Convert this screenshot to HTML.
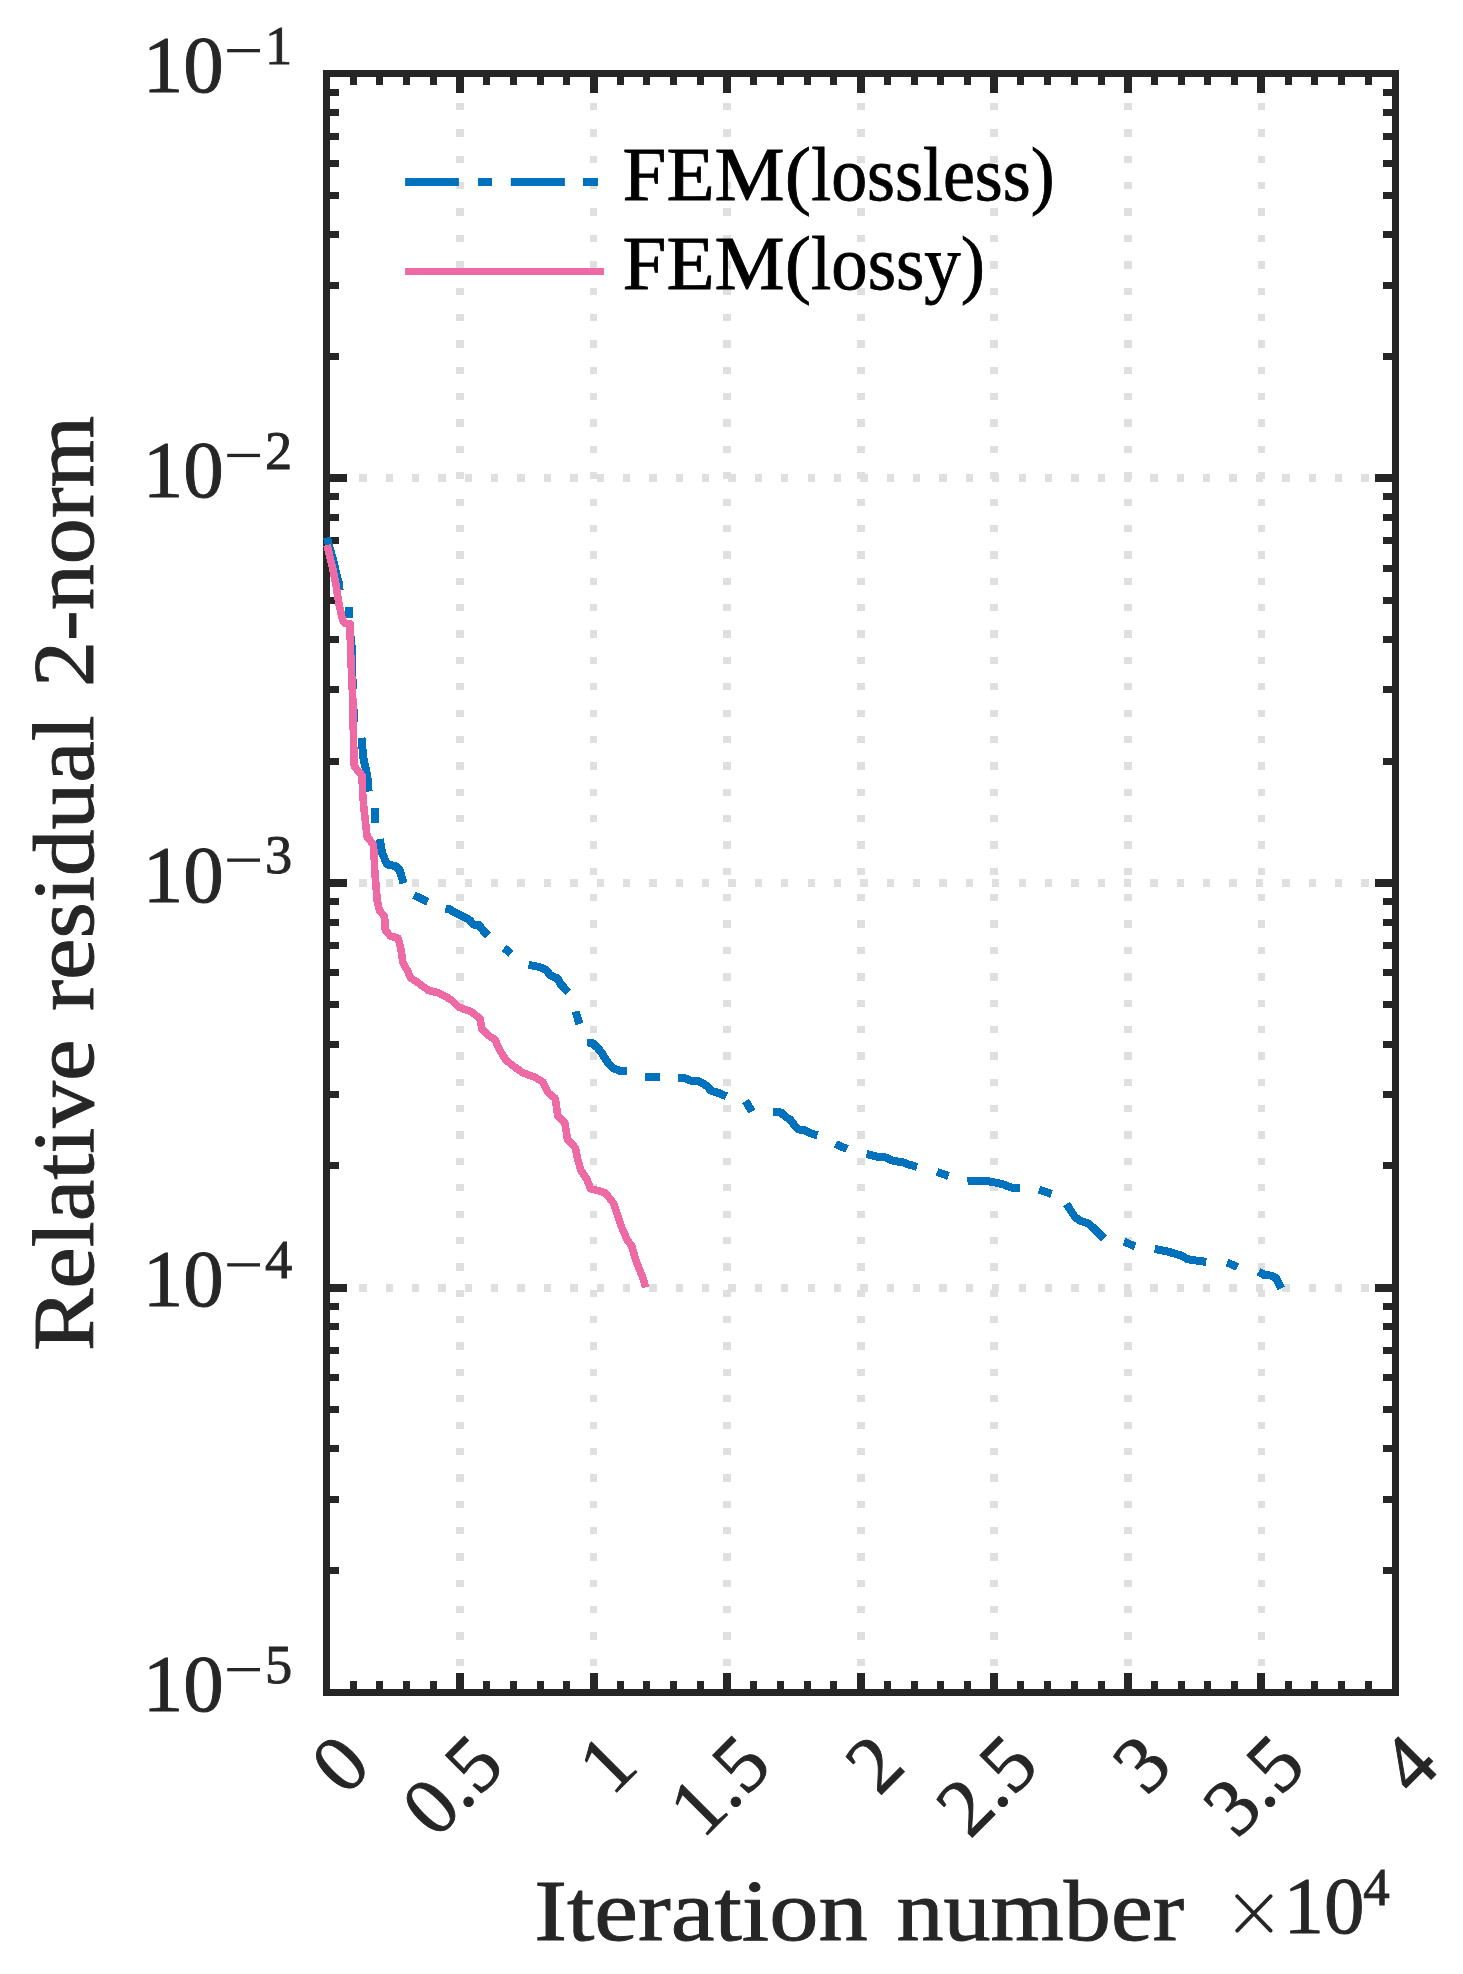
<!DOCTYPE html><html><head><meta charset="utf-8"><style>html,body{margin:0;padding:0;background:#fff;}svg{display:block;}text{font-family:"Liberation Serif",serif;} text{stroke:#262626;stroke-width:0.9px;} text.l{stroke:#000;stroke-width:0.8px;}</style></head><body>
<svg width="1463" height="1974" viewBox="0 0 1463 1974">
<rect width="1463" height="1974" fill="#fff"/>
<path d="M459.97 1692.5 L459.97 73.5 M593.55 1692.5 L593.55 73.5 M727.12 1692.5 L727.12 73.5 M860.70 1692.5 L860.70 73.5 M994.27 1692.5 L994.27 73.5 M1127.85 1692.5 L1127.85 73.5 M1261.42 1692.5 L1261.42 73.5 M1395.0 478.25 L326.4 478.25 M1395.0 883.00 L326.4 883.00 M1395.0 1287.75 L326.4 1287.75" stroke="#DFDFDF" stroke-width="7.8" stroke-dasharray="7.3 19.07" fill="none" shape-rendering="crispEdges"/>
<path d="M353.11 1692.5 v-11.2 M353.11 73.5 v11.2 M379.83 1692.5 v-11.2 M379.83 73.5 v11.2 M406.54 1692.5 v-11.2 M406.54 73.5 v11.2 M433.26 1692.5 v-11.2 M433.26 73.5 v11.2 M486.69 1692.5 v-11.2 M486.69 73.5 v11.2 M513.40 1692.5 v-11.2 M513.40 73.5 v11.2 M540.12 1692.5 v-11.2 M540.12 73.5 v11.2 M566.83 1692.5 v-11.2 M566.83 73.5 v11.2 M620.26 1692.5 v-11.2 M620.26 73.5 v11.2 M646.98 1692.5 v-11.2 M646.98 73.5 v11.2 M673.69 1692.5 v-11.2 M673.69 73.5 v11.2 M700.41 1692.5 v-11.2 M700.41 73.5 v11.2 M753.84 1692.5 v-11.2 M753.84 73.5 v11.2 M780.56 1692.5 v-11.2 M780.56 73.5 v11.2 M807.27 1692.5 v-11.2 M807.27 73.5 v11.2 M833.98 1692.5 v-11.2 M833.98 73.5 v11.2 M887.41 1692.5 v-11.2 M887.41 73.5 v11.2 M914.13 1692.5 v-11.2 M914.13 73.5 v11.2 M940.85 1692.5 v-11.2 M940.85 73.5 v11.2 M967.56 1692.5 v-11.2 M967.56 73.5 v11.2 M1020.99 1692.5 v-11.2 M1020.99 73.5 v11.2 M1047.70 1692.5 v-11.2 M1047.70 73.5 v11.2 M1074.42 1692.5 v-11.2 M1074.42 73.5 v11.2 M1101.13 1692.5 v-11.2 M1101.13 73.5 v11.2 M1154.57 1692.5 v-11.2 M1154.57 73.5 v11.2 M1181.28 1692.5 v-11.2 M1181.28 73.5 v11.2 M1207.99 1692.5 v-11.2 M1207.99 73.5 v11.2 M1234.71 1692.5 v-11.2 M1234.71 73.5 v11.2 M1288.14 1692.5 v-11.2 M1288.14 73.5 v11.2 M1314.86 1692.5 v-11.2 M1314.86 73.5 v11.2 M1341.57 1692.5 v-11.2 M1341.57 73.5 v11.2 M1368.28 1692.5 v-11.2 M1368.28 73.5 v11.2 M326.4 1570.66 h12.3 M1395.0 1570.66 h-12.3 M326.4 1499.39 h12.3 M1395.0 1499.39 h-12.3 M326.4 1448.82 h12.3 M1395.0 1448.82 h-12.3 M326.4 1409.59 h12.3 M1395.0 1409.59 h-12.3 M326.4 1377.54 h12.3 M1395.0 1377.54 h-12.3 M326.4 1350.45 h12.3 M1395.0 1350.45 h-12.3 M326.4 1326.97 h12.3 M1395.0 1326.97 h-12.3 M326.4 1306.27 h12.3 M1395.0 1306.27 h-12.3 M326.4 1165.91 h12.3 M1395.0 1165.91 h-12.3 M326.4 1094.64 h12.3 M1395.0 1094.64 h-12.3 M326.4 1044.07 h12.3 M1395.0 1044.07 h-12.3 M326.4 1004.84 h12.3 M1395.0 1004.84 h-12.3 M326.4 972.79 h12.3 M1395.0 972.79 h-12.3 M326.4 945.70 h12.3 M1395.0 945.70 h-12.3 M326.4 922.22 h12.3 M1395.0 922.22 h-12.3 M326.4 901.52 h12.3 M1395.0 901.52 h-12.3 M326.4 761.16 h12.3 M1395.0 761.16 h-12.3 M326.4 689.89 h12.3 M1395.0 689.89 h-12.3 M326.4 639.32 h12.3 M1395.0 639.32 h-12.3 M326.4 600.09 h12.3 M1395.0 600.09 h-12.3 M326.4 568.04 h12.3 M1395.0 568.04 h-12.3 M326.4 540.95 h12.3 M1395.0 540.95 h-12.3 M326.4 517.47 h12.3 M1395.0 517.47 h-12.3 M326.4 496.77 h12.3 M1395.0 496.77 h-12.3 M326.4 356.41 h12.3 M1395.0 356.41 h-12.3 M326.4 285.14 h12.3 M1395.0 285.14 h-12.3 M326.4 234.57 h12.3 M1395.0 234.57 h-12.3 M326.4 195.34 h12.3 M1395.0 195.34 h-12.3 M326.4 163.29 h12.3 M1395.0 163.29 h-12.3 M326.4 136.20 h12.3 M1395.0 136.20 h-12.3 M326.4 112.72 h12.3 M1395.0 112.72 h-12.3 M326.4 92.02 h12.3 M1395.0 92.02 h-12.3" stroke="#262626" stroke-width="7.0" fill="none" shape-rendering="crispEdges"/>
<path d="M459.97 1692.5 v-19.4 M459.97 73.5 v19.4 M593.55 1692.5 v-19.4 M593.55 73.5 v19.4 M727.12 1692.5 v-19.4 M727.12 73.5 v19.4 M860.70 1692.5 v-19.4 M860.70 73.5 v19.4 M994.27 1692.5 v-19.4 M994.27 73.5 v19.4 M1127.85 1692.5 v-19.4 M1127.85 73.5 v19.4 M1261.42 1692.5 v-19.4 M1261.42 73.5 v19.4 M326.4 1287.75 h20.4 M1395.0 1287.75 h-20.4 M326.4 883.00 h20.4 M1395.0 883.00 h-20.4 M326.4 478.25 h20.4 M1395.0 478.25 h-20.4" stroke="#262626" stroke-width="8" fill="none" shape-rendering="crispEdges"/>
<rect x="326.4" y="73.5" width="1068.60" height="1619.00" stroke="#262626" stroke-width="7.0" fill="none" shape-rendering="crispEdges"/>
<path d="M327.0 537.5 L328.8 545.0 L330.6 551.0 L333.6 561.6 L336.0 572.6 L338.8 583.0 L339.6 590.0 M349.4 607.2 L349.4 617.5 M351.2 636.0 L352.0 660.0 L352.8 689.5 M354.3 708.7 L354.3 722.0 M361.5 737.7 L363.3 758.0 L367.3 776.0 L368.6 791.5 M374.5 808.0 L374.5 822.7 M379.8 839.0 L382.3 853.7 L387.3 864.6 L395.5 866.0 L399.6 870.0 L403.6 883.3 M414.0 895.3 L427.8 901.8 M445.5 908.6 L448.6 908.8 L456.3 913.4 L463.0 916.3 L469.7 920.1 L473.5 924.7 L479.2 925.2 L484.0 931.6 L487.8 935.4 M504.0 948.0 L511.0 953.5 M528.5 964.8 L539.5 967.0 L546.2 969.9 L550.0 975.3 L557.7 978.5 L560.6 984.2 L568.2 991.9 M575.5 1011.5 L579.5 1024.0 M587.3 1043.5 L592.5 1043.0 L598.3 1048.6 L602.1 1053.4 L605.0 1058.2 L608.8 1063.9 L613.6 1068.5 L619.3 1070.6 L627.0 1071.6 M644.5 1077.0 L659.8 1077.0 M678.0 1078.0 L684.4 1078.0 L690.0 1080.5 L699.6 1081.5 L707.2 1086.3 L711.0 1090.8 L718.7 1093.0 L726.4 1096.3 M745.5 1101.0 L752.0 1111.5 M772.8 1112.3 L780.9 1112.5 L785.7 1116.9 L790.5 1119.8 L794.3 1125.3 L798.1 1129.3 L804.8 1130.3 L810.6 1133.2 L817.5 1135.3 M835.5 1144.0 L847.0 1149.0 M866.5 1154.0 L877.4 1156.8 L886.0 1157.5 L892.7 1160.6 L903.3 1162.5 L908.0 1164.4 L917.0 1166.8 M937.0 1172.0 L948.5 1176.0 M967.5 1181.3 L986.6 1181.0 L996.2 1182.7 L1004.4 1184.8 L1011.2 1187.5 L1020.1 1187.5 M1039.0 1189.5 L1051.5 1194.0 M1066.5 1204.0 L1071.0 1211.0 L1075.0 1217.0 L1080.0 1220.5 L1088.0 1223.5 L1093.0 1227.5 L1104.0 1238.5 M1124.0 1241.5 L1135.0 1246.5 M1154.7 1248.9 L1168.4 1251.7 L1182.0 1255.8 L1187.5 1259.2 L1195.7 1260.5 L1206.3 1261.9 M1227.0 1262.5 L1237.5 1267.0 M1258.6 1271.5 L1264.0 1274.9 L1270.9 1275.6 L1276.3 1278.3 L1281.3 1288.3" stroke="#0072BD" stroke-width="8" fill="none" stroke-linejoin="round" shape-rendering="crispEdges"/>
<path d="M327.0 545.0 L332.3 566.5 L336.0 584.7 L338.8 603.0 L342.5 619.5 L344.3 623.0 L350.0 623.6 L350.5 650.0 L352.8 700.0 L353.5 740.0 L354.3 766.0 L358.0 771.0 L362.0 775.5 L362.6 792.0 L363.6 805.0 L365.0 818.0 L366.3 830.0 L367.2 837.0 L370.5 841.0 L373.5 845.0 L374.3 860.0 L374.7 870.0 L377.2 900.6 L379.5 910.5 L384.6 916.6 L385.3 930.0 L390.0 935.7 L398.3 938.4 L401.0 949.4 L403.0 963.0 L407.8 971.2 L410.6 978.0 L417.4 982.2 L428.4 990.4 L439.3 993.1 L451.6 1000.0 L458.4 1006.8 L472.1 1012.2 L480.3 1019.0 L481.7 1028.7 L488.5 1035.5 L495.0 1039.6 L499.1 1049.2 L506.0 1060.2 L512.8 1065.6 L522.4 1072.5 L534.7 1077.2 L542.9 1082.0 L548.4 1093.0 L555.2 1098.4 L557.9 1116.2 L564.8 1123.0 L567.5 1139.4 L575.3 1147.7 L577.7 1159.1 L581.0 1170.6 L586.8 1179.2 L590.6 1188.8 L598.3 1190.7 L605.0 1192.6 L613.6 1203.2 L617.4 1214.6 L621.2 1226.1 L627.0 1239.5 L631.8 1246.2 L635.6 1259.6 L639.4 1269.2 L643.3 1278.8 L645.6 1287.4" stroke="#EE6AA5" stroke-width="7.6" fill="none" stroke-linejoin="round" shape-rendering="crispEdges"/>
<path d="M405.1 182.1 H458.9 M478 182.1 H492 M510.8 182.1 H564.9 M583 182.1 H598" stroke="#0072BD" stroke-width="8" fill="none"/>
<path d="M405.1 271.5 H604" stroke="#EE6AA5" stroke-width="7" fill="none"/>
<text x="622.6" y="199.9" font-size="77" fill="#000" class="l" textLength="188.4" lengthAdjust="spacingAndGlyphs">FEM(</text>
<text x="622.6" y="289" font-size="77" fill="#000" class="l" textLength="188.4" lengthAdjust="spacingAndGlyphs">FEM(</text>
<text x="811.2" y="199.9" font-size="77" fill="#000" class="l" textLength="243.5" lengthAdjust="spacingAndGlyphs">lossless)</text>
<text x="811.1" y="289" font-size="77" fill="#000" class="l" textLength="173.9" lengthAdjust="spacingAndGlyphs">lossy)</text>
<text x="142.7" y="92.0" font-size="81" fill="#262626">10</text>
<rect x="227.2" y="49.0" width="32.8" height="3.3" fill="#262626"/>
<text x="265" y="63.8" font-size="54.4" fill="#262626">1</text>
<text x="142.7" y="496.8" font-size="81" fill="#262626">10</text>
<rect x="227.2" y="453.8" width="32.8" height="3.3" fill="#262626"/>
<text x="265" y="468.6" font-size="54.4" fill="#262626">2</text>
<text x="142.7" y="901.5" font-size="81" fill="#262626">10</text>
<rect x="227.2" y="858.5" width="32.8" height="3.3" fill="#262626"/>
<text x="265" y="873.3" font-size="54.4" fill="#262626">3</text>
<text x="142.7" y="1306.2" font-size="81" fill="#262626">10</text>
<rect x="227.2" y="1263.2" width="32.8" height="3.3" fill="#262626"/>
<text x="265" y="1278.0" font-size="54.4" fill="#262626">4</text>
<text x="142.7" y="1711.0" font-size="81" fill="#262626">10</text>
<rect x="227.2" y="1668.0" width="32.8" height="3.3" fill="#262626"/>
<text x="265" y="1682.8" font-size="54.4" fill="#262626">5</text>
<text transform="translate(373.4 1768.5) rotate(-45)" text-anchor="end" font-size="81" fill="#262626">0</text>
<text transform="translate(507.0 1768.5) rotate(-45)" text-anchor="end" font-size="81" fill="#262626">0.5</text>
<text transform="translate(640.5 1768.5) rotate(-45)" text-anchor="end" font-size="81" fill="#262626">1</text>
<text transform="translate(774.1 1768.5) rotate(-45)" text-anchor="end" font-size="81" fill="#262626">1.5</text>
<text transform="translate(907.7 1768.5) rotate(-45)" text-anchor="end" font-size="81" fill="#262626">2</text>
<text transform="translate(1041.3 1768.5) rotate(-45)" text-anchor="end" font-size="81" fill="#262626">2.5</text>
<text transform="translate(1174.8 1768.5) rotate(-45)" text-anchor="end" font-size="81" fill="#262626">3</text>
<text transform="translate(1308.4 1768.5) rotate(-45)" text-anchor="end" font-size="81" fill="#262626">3.5</text>
<text transform="translate(1442.0 1768.5) rotate(-45)" text-anchor="end" font-size="81" fill="#262626">4</text>
<text x="534.2" y="1939.6" font-size="87" fill="#262626" textLength="333.5" lengthAdjust="spacingAndGlyphs">Iteration</text>
<text x="896.4" y="1939.6" font-size="87" fill="#262626" textLength="287.7" lengthAdjust="spacingAndGlyphs">number</text>
<path d="M1237.2 1896.2 L1270.6 1930.6 M1270.6 1896.2 L1237.2 1930.6" stroke="#262626" stroke-width="3.8" stroke-linecap="round" fill="none"/>
<text x="1283.5" y="1933" font-size="81" fill="#262626" class="b">10</text>
<text x="1363.3" y="1905" font-size="53" fill="#262626" class="b">4</text>
<g transform="translate(93.2 0) rotate(-90)">
<text x="-1351.1" y="0" font-size="87" fill="#262626" textLength="311.7" lengthAdjust="spacingAndGlyphs">Relative</text>
<text x="-1011.0" y="0" font-size="87" fill="#262626" textLength="295.6" lengthAdjust="spacingAndGlyphs">residual</text>
<text x="-687.0" y="0" font-size="87" fill="#262626" textLength="271.3" lengthAdjust="spacingAndGlyphs">2-norm</text>
</g>
</svg></body></html>
